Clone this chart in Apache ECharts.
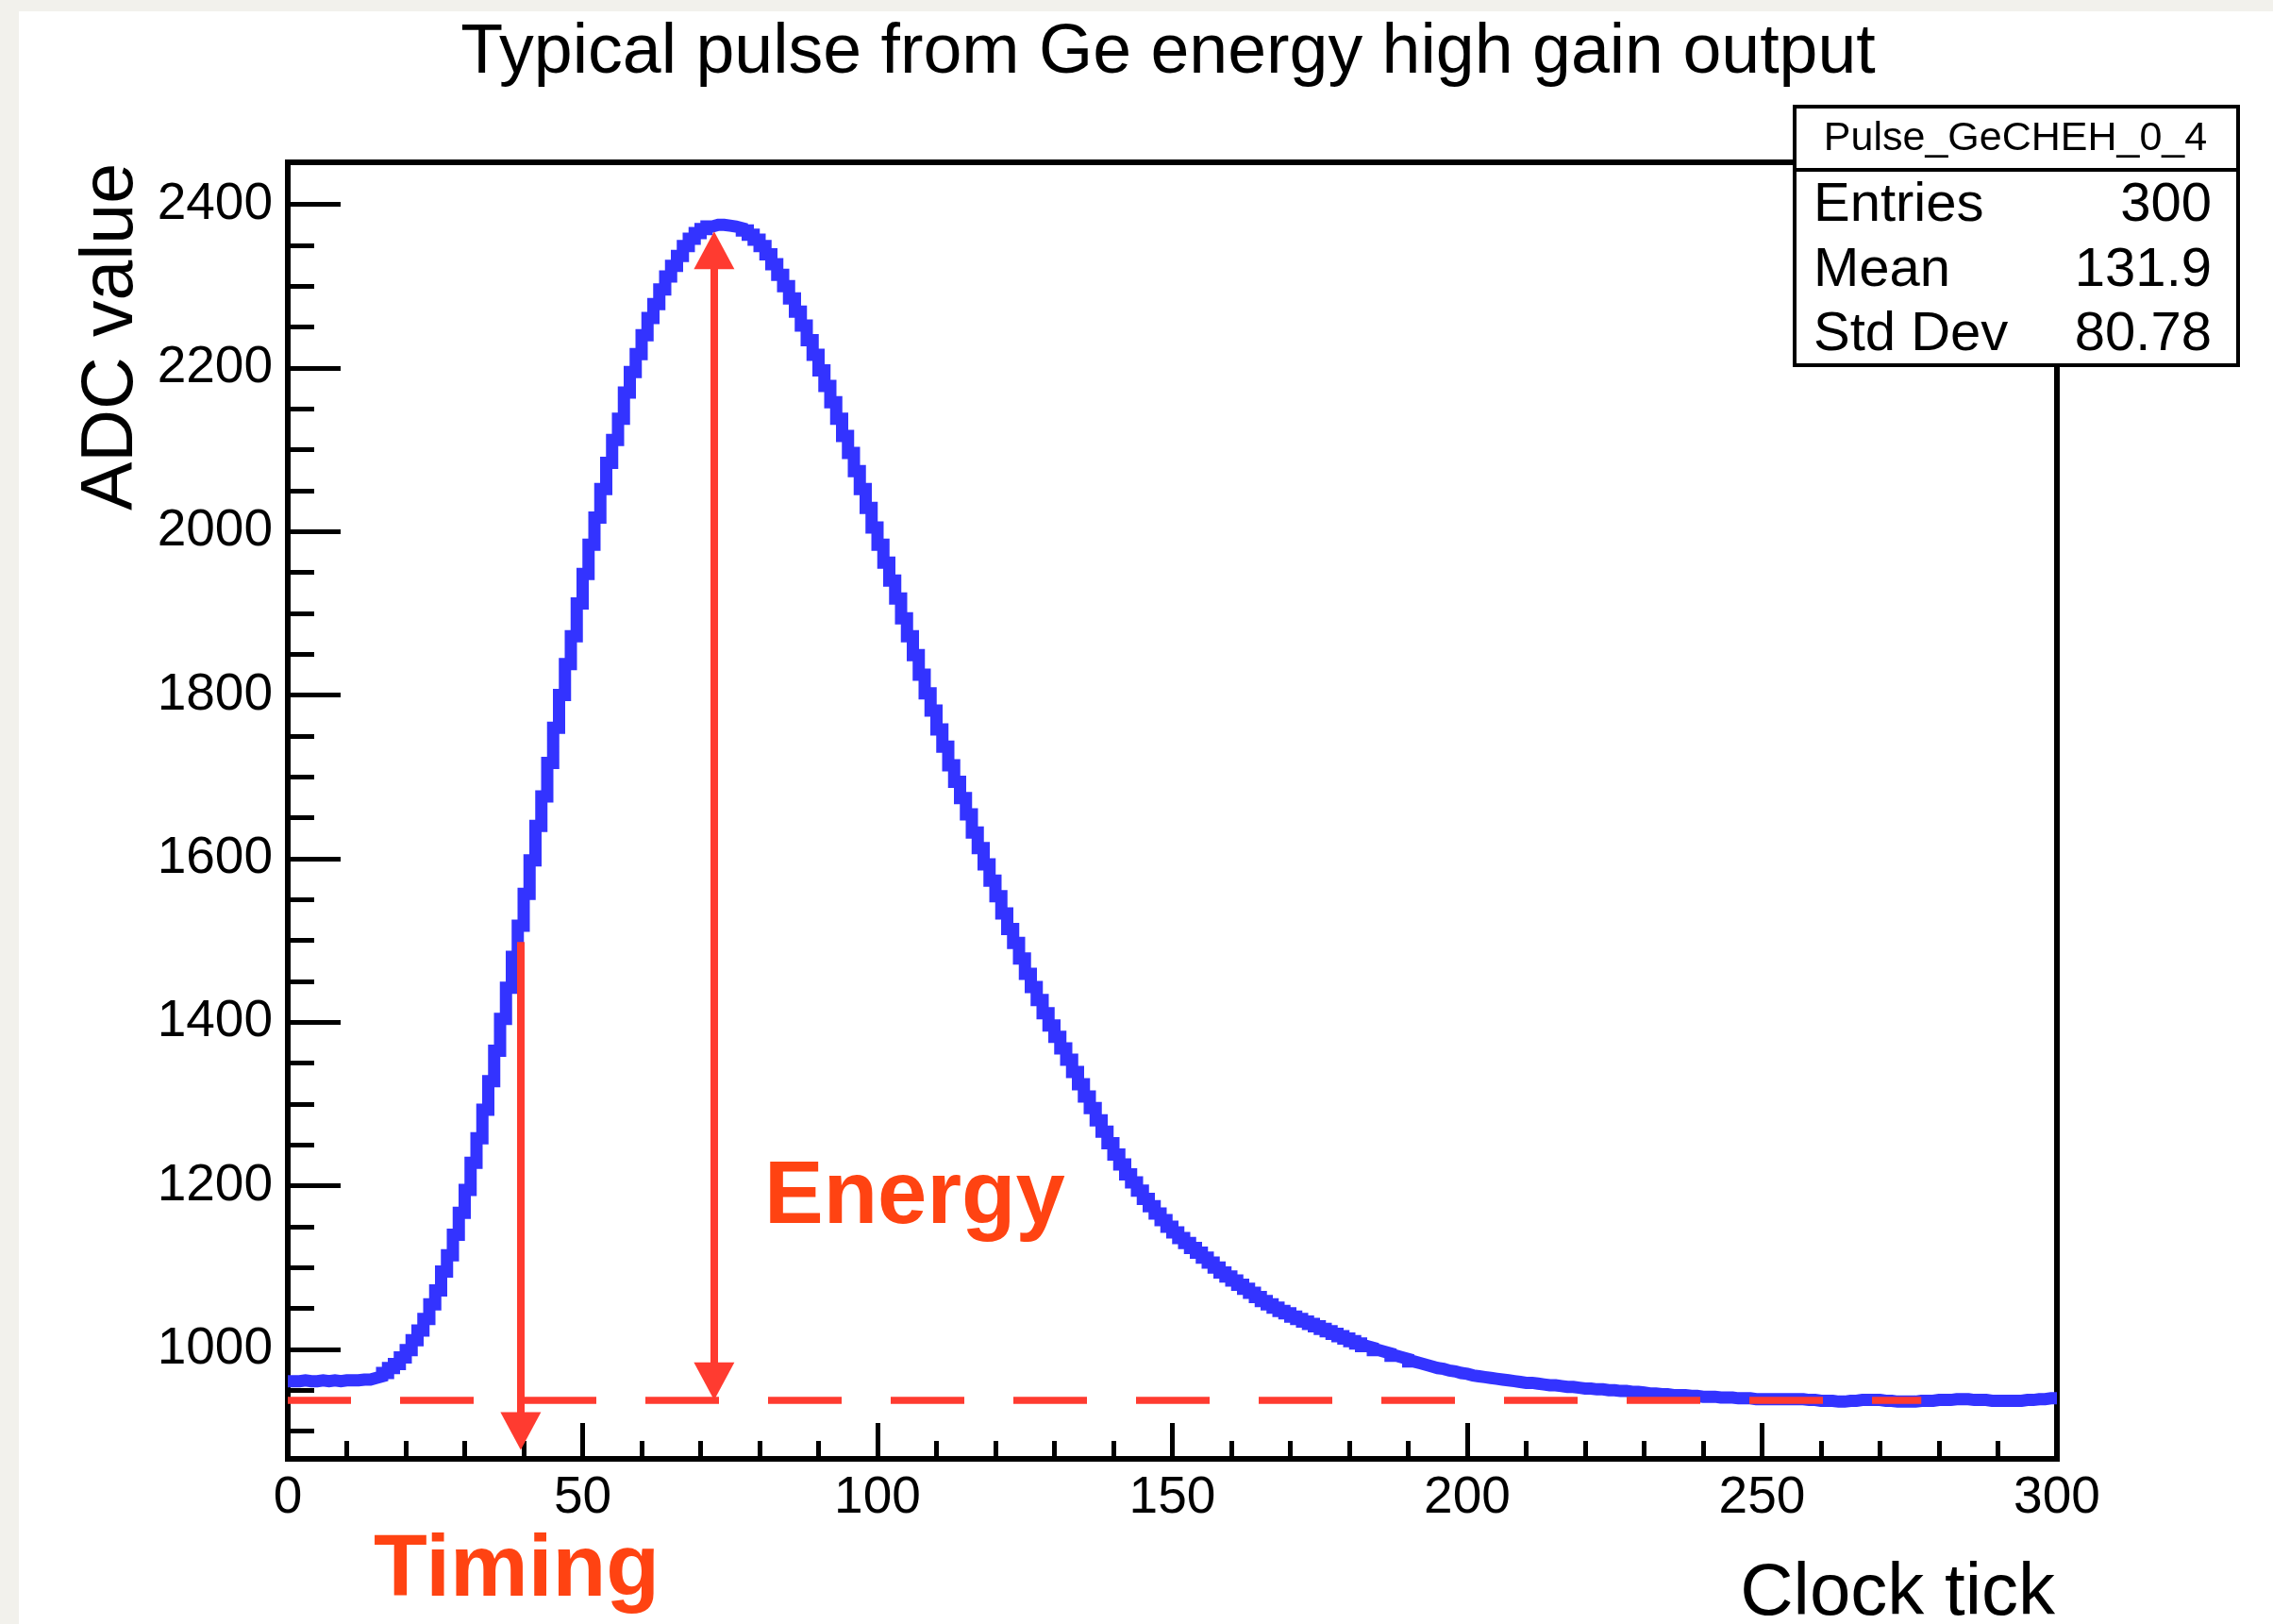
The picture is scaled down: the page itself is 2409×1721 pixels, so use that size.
<!DOCTYPE html>
<html>
<head>
<meta charset="utf-8">
<script src="https://cdn.jsdelivr.net/npm/echarts@6/dist/echarts.min.js"></script>
<style>
html,body{margin:0;padding:0;background:#f2f1ec;overflow:hidden;}
#paper{position:absolute;left:20px;top:12px;width:2389px;height:1709px;background:#ffffff;}
#chart{position:absolute;left:0;top:0;width:2409px;height:1721px;}
</style>
</head>
<body>
<div id="paper"></div>
<div id="chart"></div>
<script>
// ADC value of each clock tick bin (bin i spans [i, i+1))
const adcValues = [
  961,961,962,961,961,962,961,962,961,962,
  962,962,963,963,965,967,971,977,982,990,
  999,1011,1023,1037,1055,1072,1095,1115,1140,1167,
  1195,1228,1258,1293,1328,1365,1404,1442,1480,1518,
  1557,1598,1640,1676,1717,1760,1800,1838,1872,1912,
  1948,1984,2017,2052,2084,2112,2138,2170,2195,2217,
  2240,2261,2278,2296,2312,2325,2337,2349,2358,2365,
  2370,2373,2375,2375,2374,2373,2371,2368,2363,2357,
  2349,2339,2327,2314,2300,2285,2269,2252,2234,2216,
  2197,2178,2158,2138,2117,2096,2074,2052,2029,2005,
  1984,1962,1940,1918,1894,1872,1849,1825,1802,1781,
  1758,1737,1714,1694,1674,1654,1632,1613,1593,1573,
  1554,1533,1514,1497,1478,1459,1443,1427,1411,1396,
  1382,1368,1354,1339,1324,1309,1295,1280,1266,1252,
  1238,1226,1214,1204,1194,1184,1175,1166,1158,1150,
  1143,1136,1130,1124,1118,1112,1106,1100,1094,1089,
  1084,1079,1074,1069,1064,1059,1055,1051,1047,1044,
  1040,1037,1034,1031,1028,1025,1022,1019,1016,1013,
  1010,1007,1004,1002,999,997,995,992,990,988,
  985,983,981,979,977,976,974,973,971,970,
  968,967,966,965,964,963,962,961,960,959,
  959,958,957,956,956,955,954,954,953,952,
  952,951,951,950,950,949,949,948,948,947,
  946,946,945,945,944,944,944,943,943,942,
  942,942,941,941,941,940,940,940,939,939,
  939,939,939,939,939,939,939,938,938,937,
  937,937,936,936,937,937,938,938,938,938,
  937,937,936,936,936,936,937,937,937,938,
  938,938,939,939,939,938,938,938,937,937,
  937,937,937,937,938,938,939,939,940,940
];
const xRange = [0, 300];
const yRange = [866, 2451.5];
const xMajorTicks = [0, 50, 100, 150, 200, 250, 300];
const xMinorTicks = [10,20,30,40,60,70,80,90,110,120,130,140,160,170,180,190,210,220,230,240,260,270,280,290];
const yMajorTicks = [1000, 1200, 1400, 1600, 1800, 2000, 2200, 2400];
const yMinorTicks = [900,950,1050,1100,1150,1250,1300,1350,1450,1500,1550,1650,1700,1750,1850,1900,1950,2050,2100,2150,2250,2300,2350];
const titleText = 'Typical pulse from Ge energy high gain output';
const xTitle = 'Clock tick';
const yTitle = 'ADC value';
const statsName = 'Pulse_GeCHEH_0_4';
const statsLabels = ['Entries', 'Mean', 'Std Dev'];
const statsValues = ['300', '131.9', '80.78'];
// annotation positions (data units)
const baselineLevel = 938, baselineEnd = 277;
const timingTick = 39.5, timingTop = 1498, timingHead = 900;
const energyTick = 72.3, energyLowHead = 961, energyHighHead = 2344;

const FONT = '"Liberation Sans", Arial, Helvetica, sans-serif';
const RED = '#ff3b30';
const TXT_RED = '#ff4312';
const BLUE = '#3333ff';

const histData = adcValues.map((v, i) => [i, v]);
histData.push([adcValues.length, adcValues[adcValues.length - 1]]);

const chart = echarts.init(document.getElementById('chart'), null, {renderer: 'canvas'});

const G = {left: 305, top: 172, width: 1875, height: 1374};
const plain = v => String(v);

const option = {
  animation: false,
  backgroundColor: 'transparent',
  grid: {left: G.left, top: G.top, width: G.width, height: G.height, show: true,
         borderColor: '#000', borderWidth: 6, backgroundColor: 'transparent', containLabel: false},
  xAxis: [
    {type: 'value', position: 'bottom', min: xRange[0], max: xRange[1], interval: 50,
     axisLine: {show: false}, splitLine: {show: false},
     axisTick: {show: true, inside: true, length: 38, lineStyle: {color: '#000', width: 5}},
     axisLabel: {show: true, margin: 14, fontSize: 55, color: '#000', fontFamily: FONT,
                 customValues: xMajorTicks, formatter: plain}},
    {type: 'value', position: 'bottom', min: xRange[0], max: xRange[1],
     axisLine: {show: false}, splitLine: {show: false},
     axisTick: {show: true, inside: true, length: 19, lineStyle: {color: '#000', width: 5}, customValues: xMinorTicks},
     axisLabel: {show: false}}
  ],
  yAxis: [
    {type: 'value', position: 'left', min: yRange[0], max: yRange[1],
     axisLine: {show: false}, splitLine: {show: false},
     axisTick: {show: true, inside: true, length: 56, lineStyle: {color: '#000', width: 5}, customValues: yMajorTicks},
     axisLabel: {show: true, margin: 16, fontSize: 55, color: '#000', fontFamily: FONT,
                 customValues: yMajorTicks, formatter: plain}},
    {type: 'value', position: 'left', min: yRange[0], max: yRange[1],
     axisLine: {show: false}, splitLine: {show: false},
     axisTick: {show: true, inside: true, length: 28, lineStyle: {color: '#000', width: 5}, customValues: yMinorTicks},
     axisLabel: {show: false}}
  ],
  series: [
    {type: 'line', name: 'pulse', xAxisIndex: 0, yAxisIndex: 0, step: 'end', data: histData,
     showSymbol: false, symbol: 'none', z: 3, clip: true,
     lineStyle: {color: BLUE, width: 13, join: 'miter', cap: 'butt'}},
    {type: 'line', name: 'baseline', xAxisIndex: 0, yAxisIndex: 0, data: [], z: 5,
     markLine: {silent: true, symbol: ['none', 'none'], label: {show: false}, animation: false,
       lineStyle: {color: RED, width: 7.5, type: [78, 52], dashOffset: 11, opacity: 1},
       data: [[{coord: [xRange[0], baselineLevel]}, {coord: [baselineEnd, baselineLevel]}]]}},
    {type: 'line', name: 'timing', xAxisIndex: 0, yAxisIndex: 0, data: [], z: 5,
     markLine: {silent: true, symbol: ['none', 'triangle'], symbolSize: [43, 40], label: {show: false}, animation: false,
       lineStyle: {color: RED, width: 8, type: 'solid', opacity: 1},
       itemStyle: {color: RED},
       data: [[{coord: [timingTick, timingTop]}, {coord: [timingTick, timingHead]}]]}},
    {type: 'line', name: 'energy', xAxisIndex: 0, yAxisIndex: 0, data: [], z: 5,
     markLine: {silent: true, symbol: ['triangle', 'triangle'], symbolSize: [43, 40], label: {show: false}, animation: false,
       lineStyle: {color: RED, width: 8, type: 'solid', opacity: 1},
       itemStyle: {color: RED},
       data: [[{coord: [energyTick, energyLowHead]}, {coord: [energyTick, energyHighHead]}]]}}
  ],
  graphic: [
    {type: 'text', x: 1238, y: 57, z: 10,
     style: {text: titleText, fontSize: 73.5, fontFamily: FONT, fill: '#000', align: 'center', verticalAlign: 'middle'}},
    {type: 'text', x: 119, y: 357, rotation: Math.PI / 2, z: 10,
     style: {text: yTitle, fontSize: 77, fontFamily: FONT, fill: '#000', align: 'center', verticalAlign: 'middle'}},
    {type: 'text', x: 2178, y: 1689, z: 10,
     style: {text: xTitle, fontSize: 78, fontFamily: FONT, fill: '#000', align: 'right', verticalAlign: 'middle'}},
    {type: 'text', x: 396, y: 1665, z: 10,
     style: {text: 'Timing', fontSize: 93, fontWeight: 'bold', fontFamily: FONT, fill: TXT_RED, align: 'left', verticalAlign: 'middle'}},
    {type: 'text', x: 810, y: 1270, z: 10,
     style: {text: 'Energy', fontSize: 94, fontWeight: 'bold', fontFamily: FONT, fill: TXT_RED, align: 'left', verticalAlign: 'middle'}},
    {type: 'rect', z: 20, shape: {x: 1902, y: 113, width: 470, height: 274},
     style: {fill: '#fff', stroke: '#000', lineWidth: 4}},
    {type: 'line', z: 21, shape: {x1: 1902, y1: 180, x2: 2372, y2: 180},
     style: {stroke: '#000', lineWidth: 4}},
    {type: 'text', x: 2136, y: 147, z: 22,
     style: {text: statsName, fontSize: 43, fontFamily: FONT, fill: '#000', align: 'center', verticalAlign: 'middle'}}
  ].concat(statsLabels.map((s, i) => ({type: 'text', x: 1922, y: 218 + i * 68.5, z: 22,
     style: {text: s, fontSize: 58, fontFamily: FONT, fill: '#000', align: 'left', verticalAlign: 'middle'}})))
   .concat(statsValues.map((s, i) => ({type: 'text', x: 2344, y: 218 + i * 68.5, z: 22,
     style: {text: s, fontSize: 58, fontFamily: FONT, fill: '#000', align: 'right', verticalAlign: 'middle'}})))
};
chart.setOption(option);
</script>
</body>
</html>
